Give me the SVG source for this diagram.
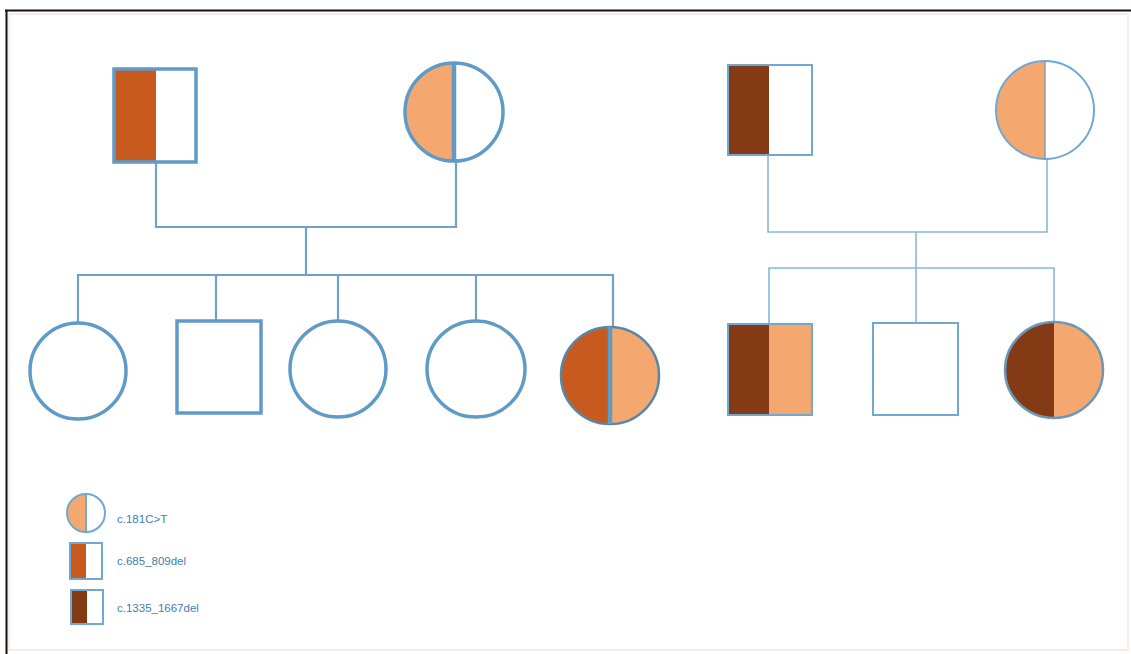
<svg xmlns="http://www.w3.org/2000/svg" width="1131" height="654" viewBox="0 0 1131 654">
<style>
.thick{fill:none;stroke:#5F9BC6;stroke-width:3.5}
.thin{fill:none;stroke:#6FA8D2;stroke-width:2}
.c1{fill:none;stroke:#6FA2C8;stroke-width:2.2}
.c2{fill:none;stroke:#86B8DC;stroke-width:1.6}
.dk{fill:#C8591F}
.lt{fill:#F4A870}
.br{fill:#843A14}
.lbl{font-family:"Liberation Sans",Arial,sans-serif;font-size:11.5px;fill:#3F7DB6}
</style>
<rect x="0" y="0" width="1131" height="654" fill="#ffffff"/>
<rect x="9" y="14" width="1119" height="636" fill="none" stroke="#FBE3DA" stroke-width="1.5"/>
<path d="M5 10.5 H1131 M6.5 10 V654" fill="none" stroke="#111111" stroke-width="2"/>

<g id="connectors">
<path class="c1" d="M156 162 V227 H456 V162"/>
<path class="c1" d="M306 227 V275"/>
<path class="c1" d="M78 323 V275 H613 V327"/>
<path class="c1" d="M216 275 V321"/>
<path class="c1" d="M338 275 V321"/>
<path class="c1" d="M476 275 V321"/>
<path class="c2" d="M768 155 V232 H1047 V159"/>
<path class="c2" d="M916 232 V323"/>
<path class="c2" d="M769 324 V268 H1054 V322"/>
</g>

<g id="father1">
<rect class="dk" x="114" y="69" width="42" height="93"/>
<rect class="thick" x="114" y="69" width="82" height="93"/>
</g>
<g id="mother1">
<path class="lt" d="M454 63 A49 49 0 0 0 454 161 Z"/>
<circle class="thick" cx="454" cy="112" r="49"/>
<line x1="454" y1="63" x2="454" y2="161" stroke="#5F9BC6" stroke-width="4.5"/>
</g>
<g id="child1"><ellipse class="thick" cx="78" cy="371" rx="48" ry="48"/></g>
<g id="child2"><rect class="thick" x="177" y="321" width="84" height="92"/></g>
<g id="child3"><ellipse class="thick" cx="338" cy="369" rx="48" ry="48"/></g>
<g id="child4"><ellipse class="thick" cx="476" cy="369" rx="49" ry="48"/></g>
<g id="child5">
<path class="dk" d="M610 327 A49 48.5 0 0 0 610 424 Z"/>
<path class="lt" d="M610 327 A49 48.5 0 0 1 610 424 Z"/>
<ellipse cx="610" cy="375.5" rx="49" ry="48.5" fill="none" stroke="#5A86A6" stroke-width="2.5"/>
<line x1="610" y1="327" x2="610" y2="424" stroke="#5F9BC6" stroke-width="4.5"/>
</g>

<g id="father2">
<rect class="br" x="728" y="65" width="41" height="90"/>
<rect class="thin" x="728" y="65" width="84" height="90"/>
</g>
<g id="mother2">
<path class="lt" d="M1045 61 A49 49 0 0 0 1045 159 Z"/>
<circle class="thin" cx="1045" cy="110" r="49"/>
<line x1="1045" y1="61" x2="1045" y2="159" stroke="#8E9EA8" stroke-width="1.5"/>
</g>
<g id="childA">
<rect class="br" x="728" y="324" width="41" height="91"/>
<rect class="lt" x="769" y="324" width="43" height="91"/>
<rect class="thin" x="728" y="324" width="84" height="91"/>
</g>
<g id="childB"><rect class="thin" x="873" y="323" width="85" height="92"/></g>
<g id="childC">
<path class="br" d="M1054 322 A49 48 0 0 0 1054 418 Z"/>
<path class="lt" d="M1054 322 A49 48 0 0 1 1054 418 Z"/>
<ellipse cx="1054" cy="370" rx="49" ry="48" fill="none" stroke="#6A98B8" stroke-width="2.5"/>
</g>

<g id="legend1">
<path class="lt" d="M86 494 A19 19 0 0 0 86 532 Z"/>
<circle class="thin" cx="86" cy="513" r="19"/>
<line x1="86" y1="494" x2="86" y2="532" stroke="#6FA8D2" stroke-width="2"/>
<text class="lbl" x="117" y="523">c.181C&gt;T</text>
</g>
<g id="legend2">
<rect class="dk" x="70" y="543" width="16" height="36"/>
<rect class="thin" x="70" y="543" width="32" height="36"/>
<text class="lbl" x="117" y="565">c.685_809del</text>
</g>
<g id="legend3">
<rect class="br" x="71" y="590" width="16" height="34"/>
<rect class="thin" x="71" y="590" width="32" height="34"/>
<text class="lbl" x="117" y="612">c.1335_1667del</text>
</g>
</svg>
